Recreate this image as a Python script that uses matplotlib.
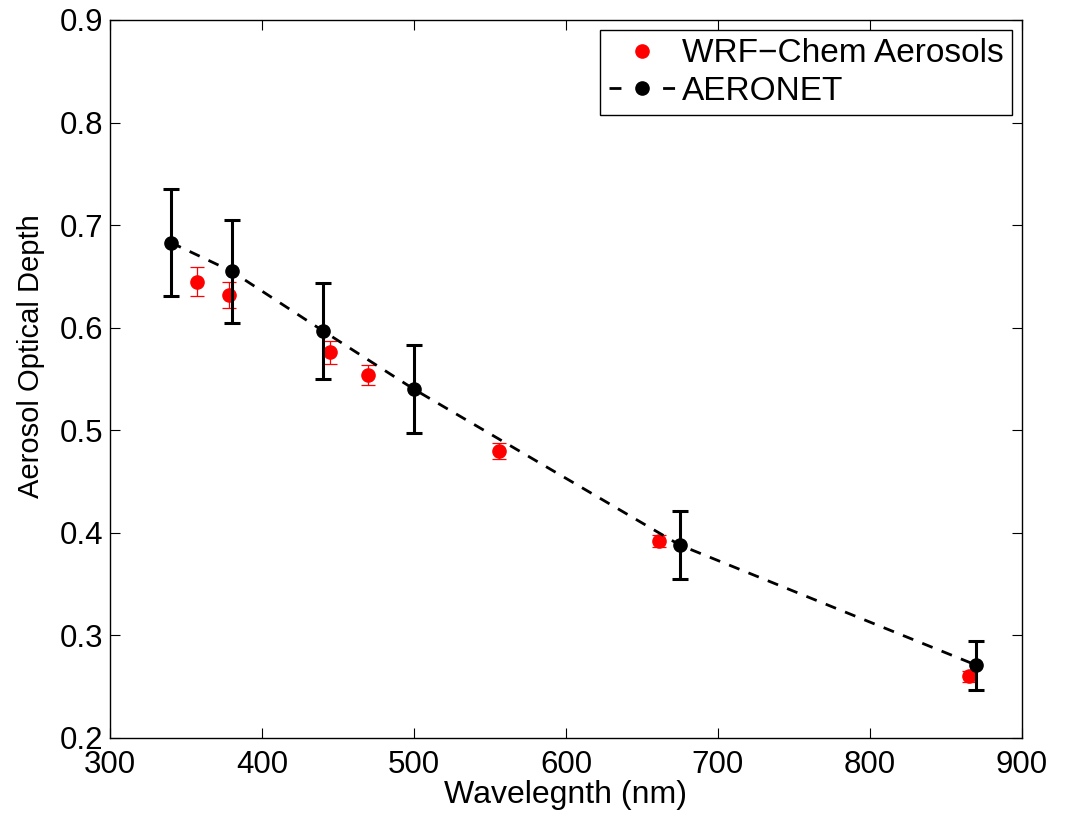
import matplotlib.pyplot as plt
from matplotlib.lines import Line2D

plt.rcParams['font.family'] = ['Liberation Sans', 'DejaVu Sans']

# AERONET observations
aeronet_wl = [340, 380, 440, 500, 675, 870]
aeronet_aod = [0.683, 0.655, 0.597, 0.540, 0.388, 0.271]
aeronet_err = [0.052, 0.050, 0.047, 0.043, 0.033, 0.024]

# WRF-Chem simulated aerosols
wrf_wl = [357, 378, 445, 470, 556, 661, 865]
wrf_aod = [0.645, 0.632, 0.576, 0.554, 0.480, 0.392, 0.260]
wrf_err = [0.014, 0.013, 0.011, 0.010, 0.008, 0.006, 0.005]

fig = plt.figure(figsize=(10.70, 8.18), dpi=100)
ax = fig.add_axes([0.1028, 0.0978, 0.8523, 0.8778])

ax.errorbar(wrf_wl, wrf_aod, yerr=wrf_err, fmt='o', color='red', ms=9.5,
            elinewidth=0.9, capsize=5.3, capthick=0.9, zorder=3)
ax.errorbar(aeronet_wl, aeronet_aod, yerr=aeronet_err, fmt='o--', color='black', ms=9.5,
            lw=2, dashes=(4, 3.5), elinewidth=2.2, capsize=6, capthick=2.2, zorder=4)

ax.set_xlim(300, 900)
ax.set_ylim(0.2, 0.9)
ax.set_xticks(range(300, 901, 100))
ax.set_yticks([0.2, 0.3, 0.4, 0.5, 0.6, 0.7, 0.8, 0.9])
ax.set_yticklabels(['0.2', '0.3', '0.4', '0.5', '0.6', '0.7', '0.8', '0.9'])
ax.tick_params(direction='in', top=True, right=True, length=7, width=0.8,
               labelsize=22.5)
ax.tick_params(axis='x', pad=9)
ax.tick_params(axis='y', pad=5)
for s in ax.spines.values():
    s.set_linewidth(1)

ax.set_xlabel('Wavelegnth (nm)', fontsize=23, labelpad=0)
ax.set_ylabel('Aerosol Optical Depth', fontsize=21)
ax.yaxis.set_label_coords(-0.071, 0.532)

# legend handles without the error bars, like the original
h_wrf = Line2D([], [], color='red', marker='o', ms=9.5, ls='none')
h_aer = Line2D([], [], color='black', marker='o', ms=9.5, ls='--', lw=2, dashes=(4.3, 15))
leg = ax.legend([h_wrf, h_aer], ['WRF\u2212Chem Aerosols', 'AERONET'], loc='upper right',
                fontsize=24, fancybox=False, edgecolor='black', framealpha=1,
                borderpad=0.25, handlelength=2.0, handletextpad=0.2,
                labelspacing=0.2, borderaxespad=0.3)
leg.get_frame().set_linewidth(1)

fig.savefig('out.png', dpi=100)
